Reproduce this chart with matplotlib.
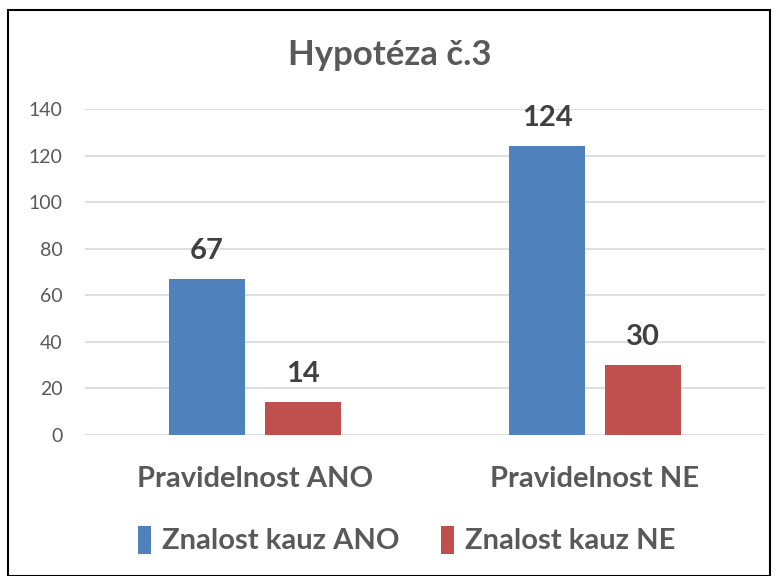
import matplotlib
matplotlib.use("Agg")
import matplotlib.pyplot as plt
import numpy as np

plt.rcParams['font.family'] = ['Lato', 'DejaVu Sans']

# data
categories = ['Pravidelnost ANO', 'Pravidelnost NE']
series_names = ['Znalost kauz ANO', 'Znalost kauz NE']
vals_ano = [67, 124]
vals_ne = [14, 30]
colors = ['#4f81bd', '#c0504d']

fig = plt.figure(figsize=(7.79, 5.76), dpi=100)
# chart frame
fig.patches.append(plt.Rectangle((8 / 779, 0), 762 / 779, 1 - 10 / 576,
                                 transform=fig.transFigure, fill=False,
                                 edgecolor='black', linewidth=1.5))

ax = fig.add_axes([85 / 779, 1 - 435 / 576, 680 / 779, 326 / 576])
x = np.arange(len(categories))
w = 0.224
off = 0.141
b1 = ax.bar(x - off, vals_ano, w, color=colors[0], label=series_names[0], zorder=3)
b2 = ax.bar(x + off, vals_ne, w, color=colors[1], label=series_names[1], zorder=3)

for bars in (b1, b2):
    for r in bars:
        ax.annotate(str(int(r.get_height())), (r.get_x() + r.get_width() / 2, r.get_height()),
                    xytext=(0, 11), textcoords='offset points', ha='center', va='bottom',
                    fontsize=21, fontweight='bold', color='#404040')

ax.set_xlim(-0.5, 1.5)
ax.set_ylim(0, 140)
ax.set_yticks(range(0, 141, 20))
ax.yaxis.grid(True, color='#d9d9d9', linewidth=1.2, zorder=0)
ax.set_xticks(x)
ax.set_xticklabels(categories, fontsize=21, fontweight='bold', color='#595959')
ax.tick_params(axis='x', length=0, pad=22)
ax.tick_params(axis='y', length=0, labelsize=14, labelcolor='#595959', pad=16)
for s in ax.spines.values():
    s.set_visible(False)

fig.text(0.5, 1 - 55 / 576, 'Hypotéza č.3', ha='center', va='center',
         fontsize=25, fontweight='bold', color='#595959')

leg = fig.legend(handles=[b1, b2], loc='center', bbox_to_anchor=(0.522, 1 - 540 / 576),
                 ncol=2, frameon=False, handlelength=0.45, handleheight=1.1,
                 handletextpad=0.35, columnspacing=1.45,
                 prop={'size': 21, 'weight': 'bold'})
for t in leg.get_texts():
    t.set_color('#595959')

fig.savefig('out.png', dpi=100)
